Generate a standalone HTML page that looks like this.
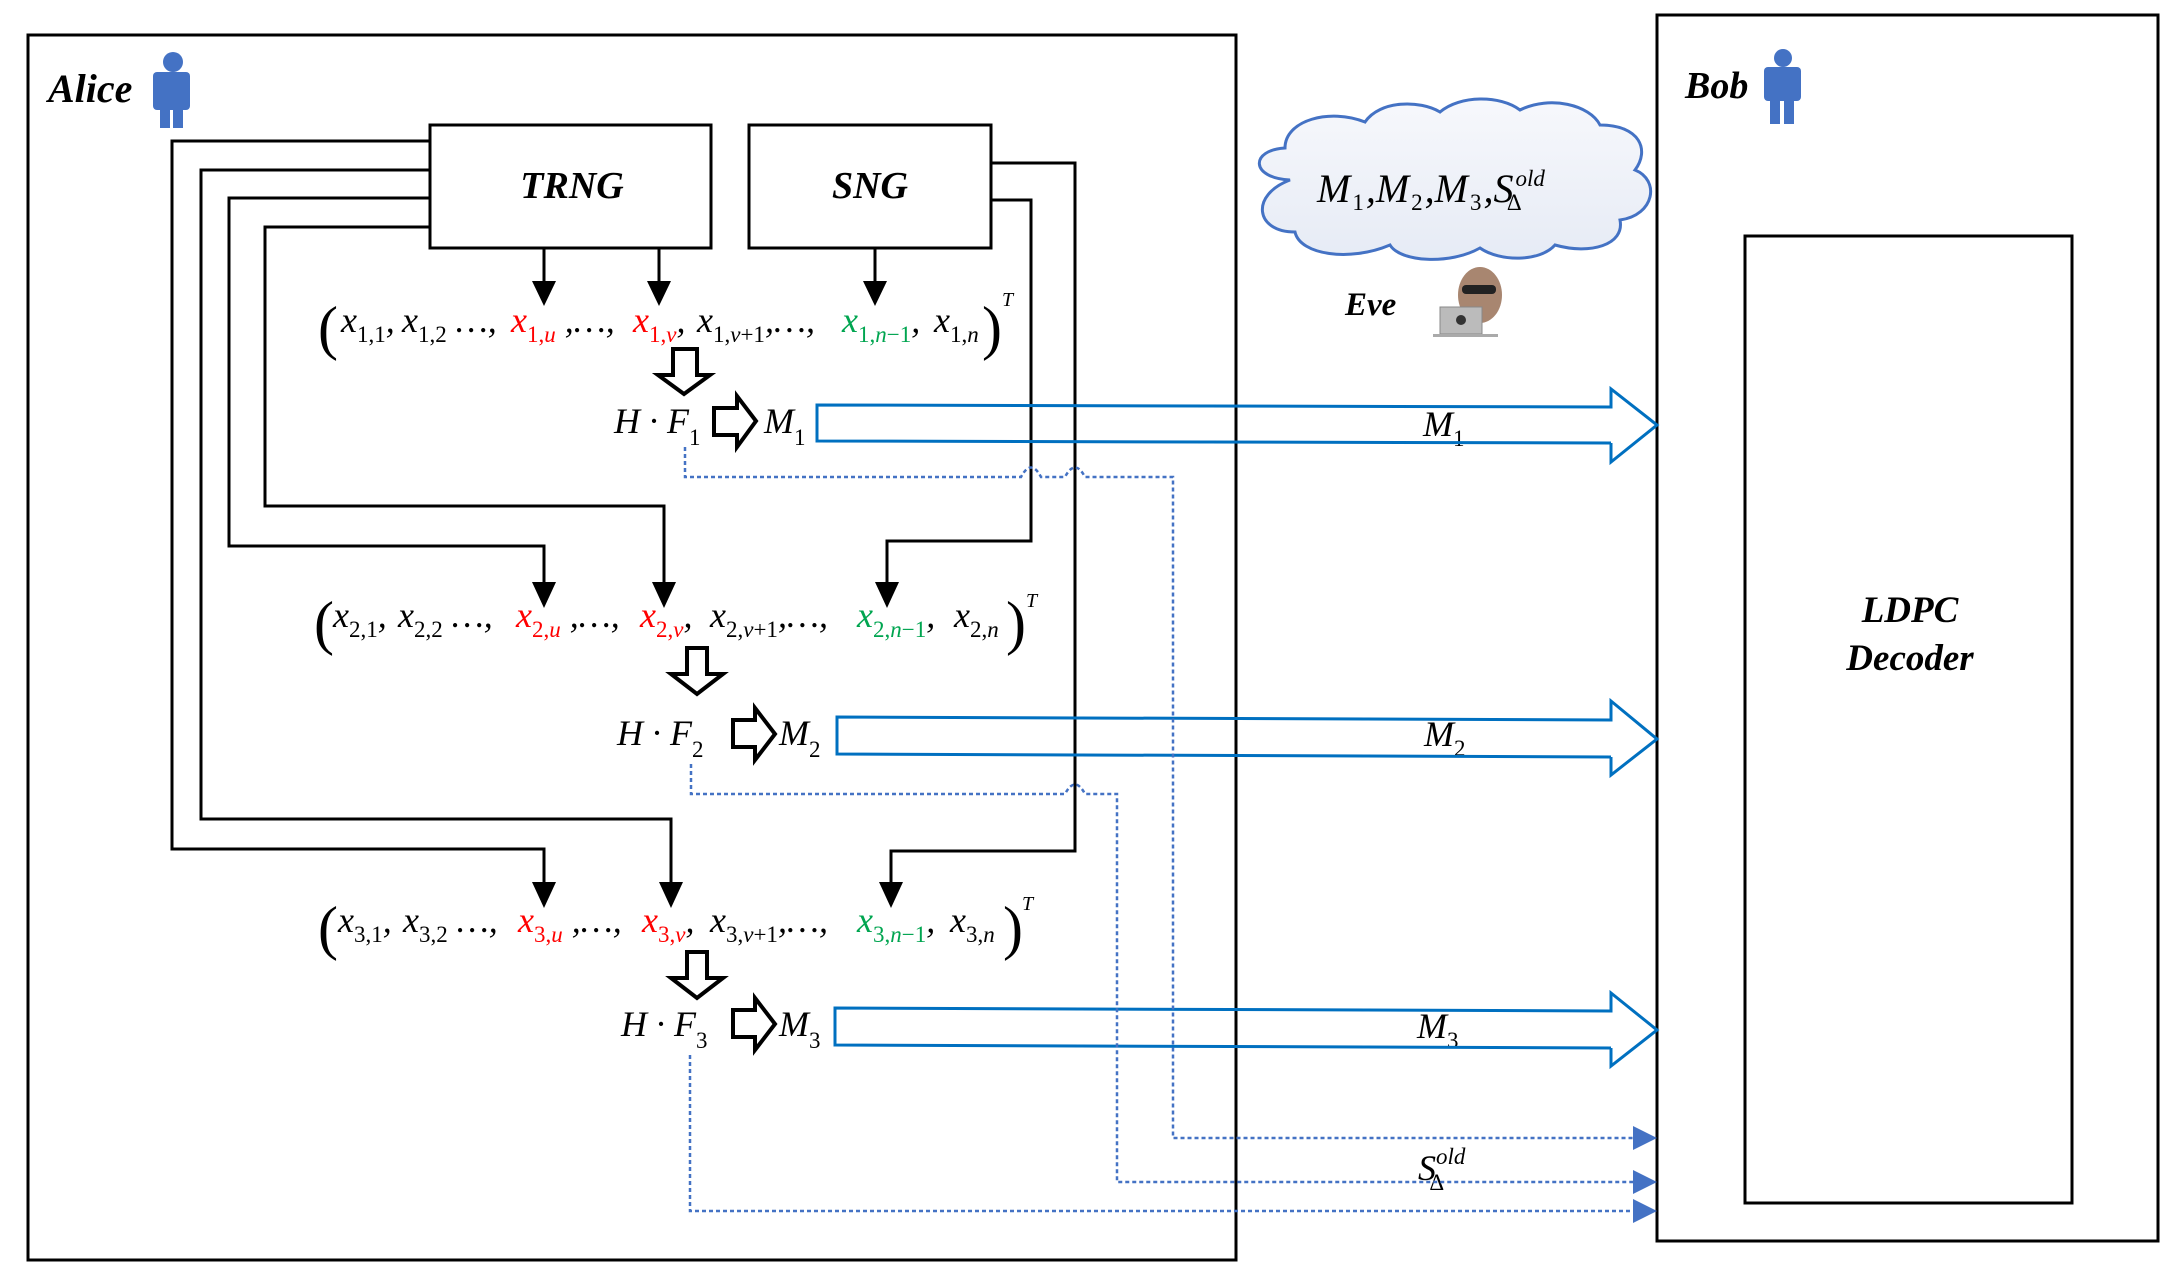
<!DOCTYPE html>
<html><head><meta charset="utf-8"><style>
html,body{margin:0;padding:0;background:#fff;}
svg{display:block;}
.m{font-family:"Liberation Serif","DejaVu Serif",serif;font-style:italic;font-size:36px;}
.s{font-size:23px;font-style:normal;}
.si{font-size:23px;font-style:italic;}
.b{font-family:"Liberation Serif","DejaVu Serif",serif;font-style:italic;font-weight:bold;}
.p{font-family:"Liberation Serif","DejaVu Serif",serif;font-size:60px;font-style:normal;font-weight:normal;}
</style></head><body>
<svg width="2176" height="1276" viewBox="0 0 2176 1276" xmlns="http://www.w3.org/2000/svg">
<defs>
<linearGradient id="cg" x1="0" y1="0" x2="0" y2="1"><stop offset="0" stop-color="#f7f8fc"/><stop offset="1" stop-color="#e6ebf5"/></linearGradient>
</defs>
<rect x="28" y="35" width="1208" height="1225" fill="none" stroke="#000" stroke-width="3"/>
<text x="48" y="102" class="b" font-size="40">Alice</text>
<g fill="#4472C4"><circle cx="173" cy="62" r="10"/><rect x="153" y="72" width="37" height="38" rx="4"/><rect x="160" y="100" width="10" height="28"/><rect x="173" y="100" width="10" height="28"/></g>
<rect x="1657" y="15" width="501" height="1226" fill="none" stroke="#000" stroke-width="3"/>
<text x="1685" y="98" class="b" font-size="38">Bob</text>
<g fill="#4472C4"><circle cx="1783" cy="58" r="9"/><rect x="1764" y="67" width="37" height="34" rx="4"/><rect x="1770" y="95" width="10" height="29"/><rect x="1784" y="95" width="10" height="29"/></g>
<rect x="1745" y="236" width="327" height="967" fill="none" stroke="#000" stroke-width="3"/>
<text x="1910" y="622" class="b" font-size="37" text-anchor="middle">LDPC</text>
<text x="1910" y="670" class="b" font-size="37" text-anchor="middle">Decoder</text>
<rect x="430" y="125" width="281" height="123" fill="#fff" stroke="#000" stroke-width="3"/>
<text x="572" y="198" class="b" font-size="38" text-anchor="middle">TRNG</text>
<rect x="749" y="125" width="242" height="123" fill="#fff" stroke="#000" stroke-width="3"/>
<text x="870" y="198" class="b" font-size="38" text-anchor="middle">SNG</text>
<g fill="none" stroke="#000" stroke-width="3">
<polyline points="430,141 172,141 172,849 544,849 544,885"/>
<polyline points="430,170 201,170 201,819 671,819 671,885"/>
<polyline points="430,198 229,198 229,546 544,546 544,585"/>
<polyline points="430,227 265,227 265,506 664,506 664,585"/>
<polyline points="991,163 1075,163 1075,851 891,851 891,885"/>
<polyline points="991,200 1031,200 1031,541 887,541 887,585"/>
<line x1="544" y1="248" x2="544" y2="285"/>
<line x1="659" y1="248" x2="659" y2="285"/>
<line x1="875" y1="248" x2="875" y2="285"/>
</g>
<g fill="#000">
<polygon points="532,281 556,281 544,306"/>
<polygon points="647,281 671,281 659,306"/>
<polygon points="863,281 887,281 875,306"/>
<polygon points="532,582 556,582 544,608"/>
<polygon points="652,582 676,582 664,608"/>
<polygon points="875,582 899,582 887,608"/>
<polygon points="532,882 556,882 544,908"/>
<polygon points="659,882 683,882 671,908"/>
<polygon points="879,882 903,882 891,908"/>
</g>
<g class="m">
<text x="318" y="348" class="p">(</text>
<text x="341" y="332">x<tspan class="s" dy="10">1,1</tspan><tspan dy="-10">,</tspan></text>
<text x="402" y="332">x<tspan class="s" dy="10">1,2</tspan><tspan dy="-10"> …,</tspan></text>
<text x="511" y="332" fill="#f00">x<tspan class="s" dy="10">1,</tspan><tspan class="si">u</tspan><tspan dy="-10" fill="#000"> ,…,</tspan></text>
<text x="633" y="332" fill="#f00">x<tspan class="s" dy="10">1,</tspan><tspan class="si">v</tspan><tspan dy="-10" fill="#000">,</tspan></text>
<text x="697" y="332">x<tspan class="s" dy="10">1,</tspan><tspan class="si">v</tspan><tspan class="s">+1</tspan><tspan dy="-10">,…,</tspan></text>
<text x="842" y="332" fill="#00a550">x<tspan class="s" dy="10">1,</tspan><tspan class="si">n</tspan><tspan class="s">−1</tspan><tspan dy="-10" fill="#000">,</tspan></text>
<text x="934" y="332">x<tspan class="s" dy="10">1,</tspan><tspan class="si">n</tspan></text>
<text x="982" y="348" class="p">)</text>
<text x="1002" y="306" font-size="20">T</text>

<text x="314" y="643" class="p">(</text>
<text x="333" y="627">x<tspan class="s" dy="10">2,1</tspan><tspan dy="-10">,</tspan></text>
<text x="398" y="627">x<tspan class="s" dy="10">2,2</tspan><tspan dy="-10"> …,</tspan></text>
<text x="516" y="627" fill="#f00">x<tspan class="s" dy="10">2,</tspan><tspan class="si">u</tspan><tspan dy="-10" fill="#000"> ,…,</tspan></text>
<text x="640" y="627" fill="#f00">x<tspan class="s" dy="10">2,</tspan><tspan class="si">v</tspan><tspan dy="-10" fill="#000">,</tspan></text>
<text x="710" y="627">x<tspan class="s" dy="10">2,</tspan><tspan class="si">v</tspan><tspan class="s">+1</tspan><tspan dy="-10">,…,</tspan></text>
<text x="857" y="627" fill="#00a550">x<tspan class="s" dy="10">2,</tspan><tspan class="si">n</tspan><tspan class="s">−1</tspan><tspan dy="-10" fill="#000">,</tspan></text>
<text x="954" y="627">x<tspan class="s" dy="10">2,</tspan><tspan class="si">n</tspan></text>
<text x="1006" y="643" class="p">)</text>
<text x="1026" y="607" font-size="20">T</text>

<text x="318" y="948" class="p">(</text>
<text x="338" y="932">x<tspan class="s" dy="10">3,1</tspan><tspan dy="-10">,</tspan></text>
<text x="403" y="932">x<tspan class="s" dy="10">3,2</tspan><tspan dy="-10"> …,</tspan></text>
<text x="518" y="932" fill="#f00">x<tspan class="s" dy="10">3,</tspan><tspan class="si">u</tspan><tspan dy="-10" fill="#000"> ,…,</tspan></text>
<text x="642" y="932" fill="#f00">x<tspan class="s" dy="10">3,</tspan><tspan class="si">v</tspan><tspan dy="-10" fill="#000">,</tspan></text>
<text x="710" y="932">x<tspan class="s" dy="10">3,</tspan><tspan class="si">v</tspan><tspan class="s">+1</tspan><tspan dy="-10">,…,</tspan></text>
<text x="857" y="932" fill="#00a550">x<tspan class="s" dy="10">3,</tspan><tspan class="si">n</tspan><tspan class="s">−1</tspan><tspan dy="-10" fill="#000">,</tspan></text>
<text x="950" y="932">x<tspan class="s" dy="10">3,</tspan><tspan class="si">n</tspan></text>
<text x="1003" y="948" class="p">)</text>
<text x="1022" y="910" font-size="20">T</text>

<text x="614" y="433">H · F<tspan class="s" dy="12">1</tspan></text>
<text x="764" y="433">M<tspan class="s" dy="12">1</tspan></text>
<text x="617" y="745">H · F<tspan class="s" dy="12">2</tspan></text>
<text x="779" y="745">M<tspan class="s" dy="12">2</tspan></text>
<text x="621" y="1036">H · F<tspan class="s" dy="12">3</tspan></text>
<text x="779" y="1036">M<tspan class="s" dy="12">3</tspan></text>
<text x="1423" y="436">M<tspan class="s" dy="10">1</tspan></text>
<text x="1424" y="746">M<tspan class="s" dy="10">2</tspan></text>
<text x="1417" y="1038">M<tspan class="s" dy="10">3</tspan></text>
<text x="1418" y="1180">S<tspan class="si" font-size="22" dy="-16">old</tspan><tspan class="s" font-size="20" dx="-36" dy="26">Δ</tspan></text>
</g>
<g fill="#fff" stroke="#000" stroke-width="4" stroke-linejoin="miter">
<polygon points="673,349 697,349 697,375 710,375 684,394 658,375 673,375"/>
<polygon points="687,648 707,648 707,674 723,674 697,694 671,674 687,674"/>
<polygon points="687,952 707,952 707,978 723,978 697,998 671,978 687,978"/>
<polygon points="714,408 737,408 737,396 756,421 737,447 737,435 714,435"/>
<polygon points="733,720 755,720 755,708 775,734 755,760 755,747 733,747"/>
<polygon points="733,1010 755,1010 755,998 775,1024 755,1050 755,1037 733,1037"/>
</g>
<g fill="none" stroke="#0070C0" stroke-width="3">
<polyline points="1611,443 817,441 817,405 1611,407 1611,389 1657,425 1611,462 1611,443"/>
<polyline points="1611,757 837,754 837,717 1611,720 1611,701 1657,739 1611,775 1611,757"/>
<polyline points="1611,1048 835,1045 835,1008 1611,1011 1611,993 1657,1030 1611,1066 1611,1048"/>
</g>
<g fill="none" stroke="#4472C4" stroke-width="2.5" stroke-dasharray="4 3">
<path d="M685,447 V477 H1021 Q1031,458 1041,477 H1065 Q1075,458 1085,477 H1173 V1138 H1636"/>
<path d="M691,764 V794 H1065 Q1075,775 1085,794 H1117 V1182 H1636"/>
<path d="M690,1055 V1211 H1636"/>
</g>
<g fill="#4472C4">
<polygon points="1633,1126 1657,1138 1633,1150"/>
<polygon points="1633,1170 1657,1182 1633,1194"/>
<polygon points="1633,1199 1657,1211 1633,1223"/>
</g>
<path d="M1290,180 C1250,178 1250,150 1285,148 C1285,120 1330,108 1365,122 C1380,100 1420,100 1440,112 C1460,95 1500,95 1520,110 C1550,95 1590,105 1600,125 C1640,125 1650,150 1635,170 C1660,180 1655,215 1620,220 C1625,245 1590,255 1555,245 C1540,262 1500,262 1480,248 C1450,265 1400,262 1390,245 C1350,262 1300,255 1295,232 C1255,232 1250,195 1290,180 Z" fill="url(#cg)" stroke="#4472C4" stroke-width="3"/>
<g class="m"><text x="1317" y="202" font-size="40">M<tspan class="s" dy="8" dx="2">1</tspan><tspan dy="-8" dx="2">,M</tspan><tspan class="s" dy="8" dx="2">2</tspan><tspan dy="-8" dx="2">,M</tspan><tspan class="s" dy="8" dx="2">3</tspan><tspan dy="-8" dx="2">,S</tspan><tspan class="si" font-size="24" dy="-16" dx="2">old</tspan><tspan class="s" font-size="22" dx="-38" dy="24">Δ</tspan></text></g>
<text x="1345" y="315" class="b" font-size="33">Eve</text>
<ellipse cx="1480" cy="295" rx="22" ry="28" fill="#a88670"/>
<rect x="1462" y="285" width="34" height="9" rx="4" fill="#222"/>
<rect x="1440" y="307" width="42" height="27" fill="#bbb" stroke="#888"/>
<circle cx="1461" cy="320" r="5" fill="#333"/>
<rect x="1433" y="334" width="65" height="3" fill="#aaa"/>
</svg>
</body></html>
